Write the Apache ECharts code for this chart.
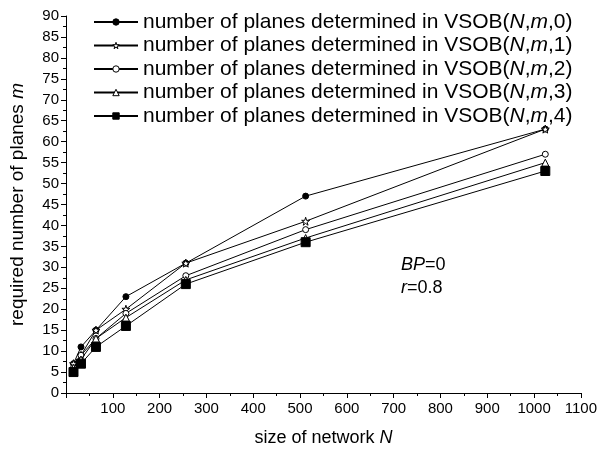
<!DOCTYPE html>
<html><head><meta charset="utf-8">
<script src="https://cdn.jsdelivr.net/npm/echarts@6/dist/echarts.min.js"></script>
<style>html,body{margin:0;padding:0;background:#fff}#c{width:600px;height:452px}</style>
</head><body><div id="c"></div>
<script>
const networkSizes = [16, 32, 64, 128, 256, 512, 1024];
const vsob0 = [7, 11, 15, 23, 31, 47, 63];
const vsob1 = [7, 9, 15, 20, 31, 41, 63];
const vsob2 = [6, 9, 13, 19, 28, 39, 57];
const vsob3 = [6, 8, 13, 18, 27, 37, 55];
const vsob4 = [5, 7, 11, 16, 26, 36, 53];
const seriesIndexLabels = ['0', '1', '2', '3', '4'];
const xTicks = {min: 0, max: 1100, interval: 100};
const yTicks = {min: 0, max: 90, interval: 5};

const FONT = '"Liberation Sans", Arial, sans-serif';
const star = 'path://M50,0 L61,35 L98,35 L68,57 L79,91 L50,70 L21,91 L32,57 L2,35 L39,35 Z';
const styles = [
  {symbol: 'circle', size: 6, fill: '#000'},
  {symbol: star, size: 8, fill: '#fff'},
  {symbol: 'circle', size: 6, fill: '#fff'},
  {symbol: 'triangle', size: 7, fill: '#fff'},
  {symbol: 'rect', size: 9, fill: '#000'}
];
const allData = [vsob0, vsob1, vsob2, vsob3, vsob4];
const names = seriesIndexLabels.map(k => 'VSOB' + k);

const series = allData.map((vals, i) => ({
  name: names[i],
  type: 'line',
  data: networkSizes.map((n, j) => [n, vals[j]]),
  symbol: styles[i].symbol,
  symbolSize: styles[i].size,
  showAllSymbol: true,
  lineStyle: {color: '#000', width: 1},
  itemStyle: {color: styles[i].fill, borderColor: '#000', borderWidth: 1},
  emphasis: {disabled: true},
  z: 2 + i
}));

const rich = (size) => ({
  n: {fontFamily: FONT, fontSize: size, color: '#000'},
  i: {fontFamily: FONT, fontSize: size, color: '#000', fontStyle: 'italic'}
});

const chart = echarts.init(document.getElementById('c'), null, {renderer: 'canvas'});
chart.setOption({
  animation: false,
  backgroundColor: '#fff',
  grid: {left: 65, right: 17, top: 16, bottom: 58},
  legend: {
    orient: 'vertical',
    left: 88, top: 6,
    itemGap: 1.5,
    itemWidth: 44, itemHeight: 8,
    data: names.map((nm, i) => ({name: nm, itemStyle: {borderWidth: 1}})),
    formatter: name => {
      const k = seriesIndexLabels[names.indexOf(name)];
      return '{n|number of planes determined in VSOB(}{i|N}{n|,}{i|m}{n|,' + k + ')}';
    },
    textStyle: {
      fontFamily: FONT, fontSize: 21, color: '#000', lineHeight: 22,
      rich: {
        n: {fontFamily: FONT, fontSize: 21, color: '#000', lineHeight: 22},
        i: {fontFamily: FONT, fontSize: 21, color: '#000', fontStyle: 'italic', lineHeight: 22}
      }
    }
  },
  xAxis: {
    type: 'value', min: xTicks.min, max: xTicks.max, interval: xTicks.interval,
    name: '{n|size of network }{i|N}',
    nameLocation: 'middle', nameGap: 36,
    nameTextStyle: {rich: rich(18)},
    axisLine: {lineStyle: {color: '#000', width: 1}},
    axisTick: {length: 5, lineStyle: {color: '#000'}},
    minorTick: {show: true, splitNumber: 2, length: 3, lineStyle: {color: '#000'}},
    splitLine: {show: false},
    axisLabel: {showMinLabel: false, formatter: v => v === 0 ? '' : String(v), fontFamily: FONT, fontSize: 15, color: '#000', margin: 8}
  },
  yAxis: {
    type: 'value', min: yTicks.min, max: yTicks.max, interval: yTicks.interval,
    name: '{n|required number of planes }{i|m}',
    nameLocation: 'middle', nameGap: 39, nameRotate: 90,
    nameTextStyle: {rich: rich(19)},
    axisLine: {show: true, lineStyle: {color: '#000', width: 1}},
    axisTick: {show: true, length: 5, lineStyle: {color: '#000'}},
    minorTick: {show: true, splitNumber: 2, length: 3, lineStyle: {color: '#000'}},
    splitLine: {show: false},
    axisLabel: {fontFamily: FONT, fontSize: 15, color: '#000', margin: 7}
  },
  graphic: [
    {type: 'text', left: 401, top: 256, style: {
      text: '{i|BP}{n|=0}',
      rich: {
        n: {fontFamily: FONT, fontSize: 18, fill: '#000'},
        i: {fontFamily: FONT, fontSize: 18, fill: '#000', fontStyle: 'italic'}
      }}},
    {type: 'text', left: 401, top: 279, style: {
      text: '{i|r}{n|=0.8}',
      rich: {
        n: {fontFamily: FONT, fontSize: 18, fill: '#000'},
        i: {fontFamily: FONT, fontSize: 18, fill: '#000', fontStyle: 'italic'}
      }}}
  ],
  series: series
});
</script></body></html>
